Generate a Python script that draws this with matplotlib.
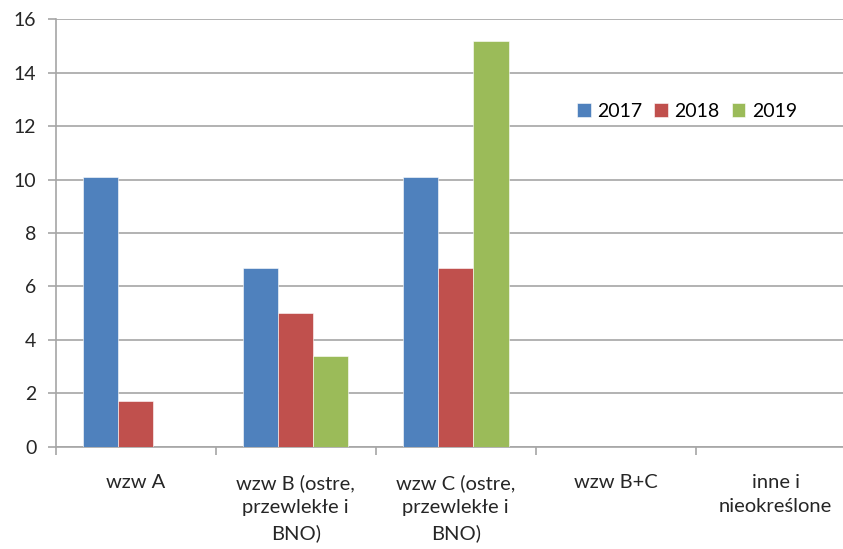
import matplotlib
matplotlib.use("Agg")
import matplotlib.pyplot as plt
import numpy as np

plt.rcParams['font.family'] = ['Lato', 'DejaVu Sans']

categories = ["wzw A", "wzw B (ostre,\nprzewlekłe i\nBNO)", "wzw C (ostre,\nprzewlekłe i\nBNO)",
              "wzw B+C", "inne i\nnieokreślone"]
years = ["2017", "2018", "2019"]
v2017 = [10.1, 6.7, 10.1, 0, 0]
v2018 = [1.7, 5.0, 6.7, 0, 0]
v2019 = [0, 3.4, 15.2, 0, 0]
colors = ["#4F81BD", "#C0504D", "#9BBB59"]

fig = plt.figure(figsize=(8.43, 5.49), dpi=100)
# plot area runs past the right edge of the picture
left, bottom, top = 55.7 / 843, 1 - 446.7 / 549, 1 - 19.3 / 549
ax = fig.add_axes([left, bottom, 1 - left, top - bottom])

x = np.arange(len(categories))
w = 0.22
for i, (vals, c, lab) in enumerate(zip([v2017, v2018, v2019], colors, years)):
    ax.bar(x + (i - 1) * w, vals, width=w, color=c, label=lab, zorder=3,
           edgecolor="white", linewidth=0.4)

ax.yaxis.grid(True, color="#A6A6A6", linewidth=1.2, zorder=0)
ax.set_axisbelow(True)

for s in ["top", "right"]:
    ax.spines[s].set_visible(False)
for s in ["left", "bottom"]:
    ax.spines[s].set_color("#A6A6A6")
    ax.spines[s].set_linewidth(1.2)

ax.set_xticks(x)
ax.set_xticklabels(categories, linespacing=1.5, va="top")
ax.tick_params(axis="x", which="major", length=0, pad=20, labelsize=14.5, colors="#262626")
ax.set_xticks(np.arange(-0.5, len(categories), 1), minor=True)
ax.tick_params(axis="x", which="minor", length=6, width=1.2, color="#A6A6A6", direction="out")
ax.set_yticks(range(0, 17, 2))
ax.tick_params(axis="y", length=6, width=1.2, color="#A6A6A6", labelsize=14, pad=8,
               labelcolor="#262626")

ax.set_ylim(0, 16)
ax.set_xlim(-0.5, -0.5 + (843 - 55.7) / 160)

ax.legend(loc="center", bbox_to_anchor=((687 - 55.7) / 787.3, (446.7 - 111) / 427.4), ncol=3,
          frameon=False, fontsize=14, handlelength=0.7, handleheight=0.7,
          handletextpad=0.35, columnspacing=0.6, borderpad=0)

fig.savefig("out.png", dpi=100)
